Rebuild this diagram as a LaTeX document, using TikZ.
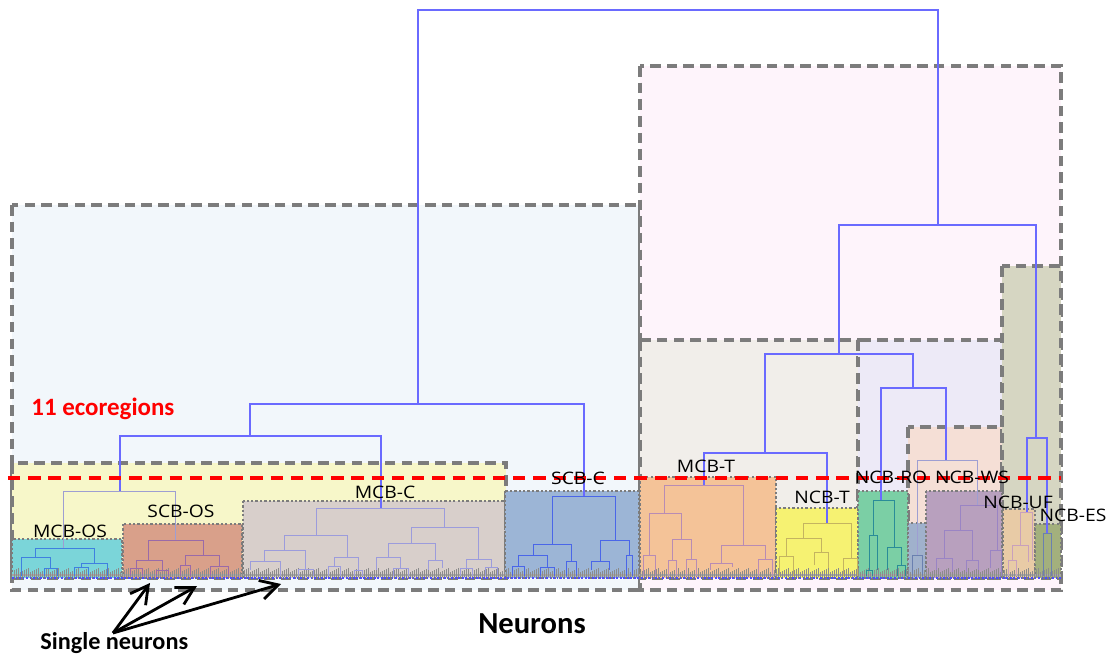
\documentclass[tikz,border=0pt]{standalone}
\usepackage{fontspec}
\setmainfont{Carlito}
\newfontfamily\labfont[FakeStretch=1.12]{Open Sans}
\usetikzlibrary{arrows.meta}
\definecolor{cLeft}{HTML}{F2F7FB}
\definecolor{cPink}{HTML}{FEF4FB}
\definecolor{cYel}{HTML}{F7F7C9}
\definecolor{cMOS}{HTML}{7BD5D9}
\definecolor{cSOS}{HTML}{D9A08A}
\definecolor{cMC}{HTML}{D8CFCB}
\definecolor{cSC}{HTML}{9CB5D6}
\definecolor{cBeige}{HTML}{F1EEEA}
\definecolor{cMT}{HTML}{F4C398}
\definecolor{cNT}{HTML}{F6F272}
\definecolor{cLav}{HTML}{EDEAF7}
\definecolor{cRO}{HTML}{7BCFA5}
\definecolor{cSB}{HTML}{A0B1CC}
\definecolor{cPeach}{HTML}{F5DFD6}
\definecolor{cWS}{HTML}{B8A0BE}
\definecolor{cOlive}{HTML}{D6D6C2}
\definecolor{cUF}{HTML}{E8CBA6}
\definecolor{cES}{HTML}{A3B07D}
\definecolor{dTop}{HTML}{6A6AFF}
\definecolor{dMOS}{HTML}{3F80E0}
\definecolor{dSOS}{HTML}{9A6AA8}
\definecolor{dMC}{HTML}{9C9CDC}
\definecolor{dSC}{HTML}{4A66E8}
\definecolor{dMT}{HTML}{B88CB4}
\definecolor{dNT}{HTML}{C4B460}
\definecolor{dRO}{HTML}{2A8C98}
\definecolor{dWS}{HTML}{9A84C4}
\definecolor{dUF}{HTML}{C8A0BC}
\definecolor{dES}{HTML}{6A80B0}
\definecolor{bordergray}{HTML}{7C7C7C}
\newcommand\dl[5]{\draw (#1,#2) -- (#1,#5) -- (#3,#5) -- (#3,#4);}
\tikzset{
  outerbox/.style={draw=bordergray, line width=1.8pt, dash pattern=on 6pt off 3.5pt},
  innerbox/.style={draw=bordergray, line width=1.5pt, dash pattern=on 1.3pt off 1.2pt},
  dendro/.style={line width=0.55pt},
  toptree/.style={draw=dTop, line width=0.7pt},
  clabel/.style={font=\labfont\fontsize{9.8}{11}\selectfont, inner sep=0pt, text=black},
  redline/.style={draw=red, line width=2.3pt, dash pattern=on 7pt off 4.5pt},
  ptr/.style={line width=1.6pt, -{Straight Barb[length=10pt,width=11pt,line width=1.6pt]}}
}
\begin{document}
\begin{tikzpicture}[x=0.02cm,y=-0.02cm]
\useasboundingbox (0,0) rectangle (1111,658);
% large boxes
\path[fill=cLeft, outerbox] (12,205) rectangle (640,590);
\path[fill=cPink, outerbox] (640,66) rectangle (1061,590);
% mid boxes
\path[fill=cYel, outerbox] (12,463) rectangle (506,578);
\path[fill=cBeige, outerbox] (640,340) rectangle (858,578);
\path[fill=cLav, outerbox] (858,340) rectangle (1002,578);
\path[fill=cPeach, outerbox] (908,427) rectangle (1002,578);
\path[fill=cOlive, outerbox] (1002,266) rectangle (1061,578);
% inner cluster boxes
\path[fill=cMOS, innerbox] (12,539) rectangle (122,578);
\path[fill=cSOS, innerbox] (123,524) rectangle (242,578);
\path[fill=cMC, innerbox] (243,501) rectangle (505,578);
\path[fill=cSC, innerbox] (505,491) rectangle (639,578);
\path[fill=cMT, innerbox] (640,477) rectangle (776,578);
\path[fill=cNT, innerbox] (776,508) rectangle (858,578);
\path[fill=cRO, innerbox] (858,491) rectangle (908,578);
\path[fill=cSB, innerbox] (908,523) rectangle (926,578);
\path[fill=cWS, innerbox] (926,491) rectangle (1002,578);
\path[fill=cUF, innerbox] (1003,509) rectangle (1035,578);
\path[fill=cES, innerbox] (1035,524) rectangle (1061,578);
% leaves band
\draw[gray!70, line width=1.6pt] (12,575) -- (1061,575);
\foreach \i in {14,16,...,1058} {
  \draw[gray!90, line width=0.4pt] (\i,577) -- (\i,{572-mod(\i*13,5)});
}
\draw[blue!70, line width=0.6pt, dash pattern=on 1pt off 1pt] (12,578) -- (1061,578);
% top tree
\begin{scope}[toptree]
\dl{418}{404}{938}{225}{10}
\dl{250}{436}{584}{496}{404}
\dl{120}{491}{381}{508}{436}
\dl{839}{354}{1036}{438}{225}
\dl{765}{453}{913}{388}{354}
\dl{704}{485}{827}{523}{453}
\dl{881}{500}{946}{460}{388}
\dl{1027}{512}{1047}{533}{438}
\end{scope}
\begin{scope}[dendro, draw=dTop!50!gray!70]
\dl{63}{548}{175}{540}{491}
\dl{917}{555}{977}{505}{460}
\end{scope}
% MCB-OS
\begin{scope}[dendro, draw=dMOS]
\dl{35}{557}{94}{563}{548}
\dl{21}{576}{50}{568}{557}
\dl{44}{576}{57}{576}{568}
\dl{81}{567}{107}{576}{563}
\dl{74}{576}{88}{576}{567}
\end{scope}
% SCB-OS
\begin{scope}[dendro, draw=dSOS]
\dl{148}{560}{203}{555}{540}
\dl{136}{568}{162}{570}{560}
\dl{130}{576}{142}{576}{568}
\dl{156}{576}{168}{576}{570}
\dl{185}{565}{219}{566}{555}
\dl{180}{576}{190}{576}{565}
\dl{210}{576}{228}{576}{566}
\end{scope}
% MCB-C
\begin{scope}[dendro, draw=dMC]
\dl{316}{535}{444}{527}{508}
\dl{284}{550}{347}{557}{535}
\dl{264}{561}{305}{569}{550}
\dl{250}{570}{280}{576}{561}
\dl{298}{576}{313}{576}{569}
\dl{334}{566}{358}{570}{557}
\dl{328}{576}{340}{576}{566}
\dl{354}{576}{362}{576}{570}
\dl{411}{543}{478}{559}{527}
\dl{388}{557}{435}{560}{543}
\dl{376}{570}{400}{568}{557}
\dl{393}{576}{408}{576}{568}
\dl{428}{570}{442}{568}{560}
\dl{466}{568}{491}{567}{559}
\dl{460}{576}{472}{576}{568}
\dl{485}{576}{497}{576}{567}
\end{scope}
% SCB-C
\begin{scope}[dendro, draw=dSC]
\dl{552}{544}{615}{540}{496}
\dl{533}{555}{571}{561}{544}
\dl{518}{566}{547}{567}{555}
\dl{512}{576}{524}{576}{566}
\dl{540}{576}{554}{576}{567}
\dl{566}{576}{576}{576}{561}
\dl{600}{561}{629}{555}{540}
\dl{591}{570}{609}{570}{561}
\dl{626}{576}{632}{576}{555}
\end{scope}
% MCB-T
\begin{scope}[dendro, draw=dMT]
\dl{664}{513}{743}{545}{485}
\dl{649}{555}{681}{539}{513}
\dl{643}{576}{655}{576}{555}
\dl{672}{560}{691}{559}{539}
\dl{668}{576}{676}{576}{560}
\dl{686}{576}{696}{576}{559}
\dl{721}{563}{765}{559}{545}
\dl{710}{570}{732}{567}{563}
\dl{758}{576}{772}{576}{559}
\end{scope}
% NCB-T
\begin{scope}[dendro, draw=dNT]
\dl{803}{538}{851}{558}{523}
\dl{786}{556}{821}{552}{538}
\dl{779}{576}{793}{576}{556}
\dl{814}{565}{828}{568}{552}
\dl{843}{576}{857}{576}{558}
\end{scope}
% NCB-RO
\begin{scope}[dendro, draw=dRO]
\dl{873}{535}{894}{547}{500}
\dl{869}{570}{877}{570}{535}
\dl{866}{576}{872}{576}{570}
\dl{887}{570}{901}{565}{547}
\dl{897}{576}{905}{576}{565}
\end{scope}
\begin{scope}[dendro, draw=dES]
\dl{912}{576}{922}{576}{555}
\end{scope}
% NCB-WS
\begin{scope}[dendro, draw=dWS]
\dl{960}{530}{997}{550}{505}
\dl{944}{558}{972}{560}{530}
\dl{936}{570}{952}{572}{558}
\dl{966}{572}{978}{570}{560}
\dl{990}{568}{1001}{576}{550}
\end{scope}
% NCB-UF / ES
\begin{scope}[dendro, draw=dUF]
\dl{1020}{545}{1032}{560}{512}
\dl{1012}{560}{1028}{562}{545}
\dl{1008}{576}{1016}{576}{560}
\end{scope}
\begin{scope}[dendro, draw=dES]
\dl{1043}{576}{1051}{576}{533}
\end{scope}
% red threshold
\draw[redline] (8,478) -- (1061,478);
% labels
\node[clabel] (mcbos) at (70,531) {MCB-OS};
\node[clabel] (scbos) at (181,511) {SCB-OS};
\node[clabel] (mcbc) at (385,492) {MCB-C};
\node[clabel] (scbc) at (578,478) {SCB-C};
\node[clabel] (mcbt) at (706,466) {MCB-T};
\node[clabel] (ncbt) at (822,497) {NCB-T};
\node[clabel] (ncbro) at (891,477) {NCB-RO};
\node[clabel] (ncbws) at (972,477) {NCB-WS};
\node[clabel] (ncbuf) at (1018,502) {NCB-UF};
\node[clabel] (ncbes) at (1073,515) {NCB-ES};
\node[anchor=base west, inner sep=0pt, text=red, font=\bfseries\fontsize{14.2}{16}\selectfont] (eco) at (31,415) {11 ecoregions};
\node[anchor=base, inner sep=0pt, font=\bfseries\fontsize{17.4}{20}\selectfont] (neur) at (532,633) {Neurons};
\node[anchor=base west, inner sep=0pt, font=\bfseries\fontsize{13.8}{16}\selectfont] (single) at (40,649) {Single neurons};
% arrows
\coordinate (src) at (113,633);
\coordinate (t1) at (150,583);
\coordinate (t2) at (197,586);
\coordinate (t3) at (281,584);
\draw[ptr] (src) -- (t1);
\draw[ptr] (src) -- (t2);
\draw[ptr] (src) -- (t3);
\end{tikzpicture}
\end{document}
